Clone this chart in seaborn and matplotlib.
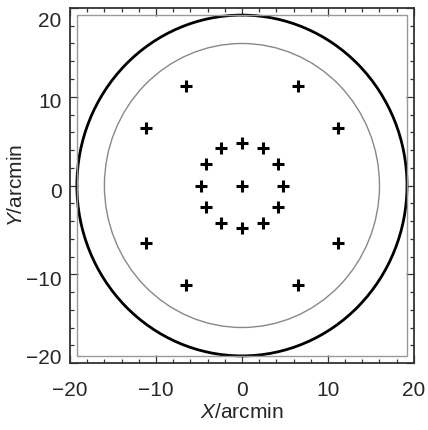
#!/usr/bin/env python3
"""Field layout: pointing positions inside the field of view."""

import matplotlib
matplotlib.use("Agg")
import matplotlib.pyplot as plt
import matplotlib.transforms as mtransforms
from matplotlib.patches import Circle, Rectangle
from matplotlib.ticker import MultipleLocator
import seaborn as sns
import pandas as pd

# Pointing positions (arcmin)
x_pos = [0.0, 2.4, 4.2, 4.8, 4.2, 2.4, 0.0, -2.4, -4.2, -4.8, -4.2, -2.4, 0.0,
         6.5, 11.2, 11.2, 6.5, -6.5, -11.2, -11.2, -6.5]
y_pos = [4.8, 4.2, 2.4, 0.0, -2.4, -4.2, -4.8, -4.2, -2.4, 0.0, 2.4, 4.2, 0.0,
         11.2, 6.5, -6.5, -11.2, -11.2, -6.5, 6.5, 11.2]

# Circle radii (arcmin)
outer_radius = 19.2
inner_radius = 16.0
inner_box = 19.2

ticks = [-20, -10, 0, 10, 20]
tick_labels = ["\u221220", "\u221210", "0", "10", "20"]

sns.set_style("ticks")
plt.rcParams["font.family"] = ["Liberation Sans", "DejaVu Sans"]
plt.rcParams["mathtext.fontset"] = "custom"
plt.rcParams["mathtext.it"] = "Liberation Sans:italic"
plt.rcParams["mathtext.rm"] = "Liberation Sans"

df = pd.DataFrame({"x": x_pos, "y": y_pos})

fig = plt.figure(figsize=(4.28, 4.30), dpi=100)
ax = fig.add_axes([0.1636, 0.1558, 0.8034, 0.8256])

sns.scatterplot(data=df, x="x", y="y", marker="+", s=70, color="black",
                linewidth=2.2, ax=ax, zorder=5)

ax.add_patch(Circle((0, 0), outer_radius, fill=False, edgecolor="black", lw=2.0))
ax.add_patch(Circle((0, 0), inner_radius, fill=False, edgecolor="#888888", lw=1.0))
ax.add_patch(Rectangle((-inner_box, -inner_box), 2 * inner_box, 2 * inner_box,
                       fill=False, edgecolor="#999999", lw=1.0))

ax.set_xlim(-20, 20)
ax.set_ylim(-20, 20)
ax.set_xticks(ticks)
ax.set_xticklabels(tick_labels)
ax.set_yticks(ticks)
ax.set_yticklabels(tick_labels)
ax.xaxis.set_minor_locator(MultipleLocator(2))
ax.yaxis.set_minor_locator(MultipleLocator(2))
ax.tick_params(which="both", direction="in", top=True, right=True,
               color="#333333", width=0.9)
ax.tick_params(which="major", length=6, labelsize=15)
ax.tick_params(axis="x", which="major", pad=13)
ax.tick_params(axis="y", which="major", pad=6)
ax.tick_params(which="minor", length=3)
for sp in ax.spines.values():
    sp.set_color("#333333")
    sp.set_linewidth(1.3)

# y tick labels sit a little off their ticks in the original (end ones pulled inward)
y_label_shift = [6.5, -4.0, -4.5, -3.5, -11.5]
for lab, dy in zip(ax.get_yticklabels(), y_label_shift):
    off = mtransforms.ScaledTranslation(0, dy / 100, fig.dpi_scale_trans)
    lab.set_transform(lab.get_transform() + off)

ax.set_xlabel(r"$\it{X}$/arcmin", fontsize=15, labelpad=2)
ax.set_ylabel(r"$\it{Y}$/arcmin", fontsize=15)
ax.yaxis.set_label_coords(-0.128, 0.5)

fig.savefig("out.png", dpi=100)
plt.close(fig)
